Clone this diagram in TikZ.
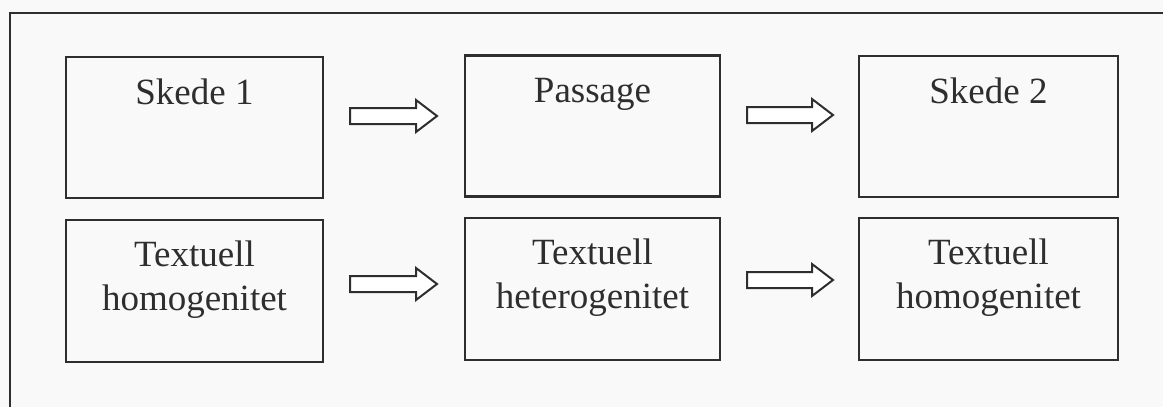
\documentclass[tikz,border=0pt]{standalone}
\usepackage{fontspec}
\setmainfont{Liberation Serif}
\usetikzlibrary{calc}
\definecolor{ink}{HTML}{2E2E2E}
\definecolor{paper}{HTML}{F9F9F9}
\tikzset{
  box/.style={draw=ink, line width=2.3pt, minimum height=141pt, inner sep=0pt},
  lbl/.style={text=ink, font=\fontsize{37}{44}\selectfont, inner sep=0pt, anchor=base, align=center},
  hollow/.style={draw=ink, line width=2pt, line join=miter, fill=white},
  frameline/.style={draw=ink, line width=2.2pt}
}
\newcommand{\hollowarrow}[2]{%
  \draw[hollow] ($(#1)+(0,-8)$) -- ($(#2)+(-21,-8)$) -- ($(#2)+(-21,-16)$) -- (#2)
    -- ($(#2)+(-21,16)$) -- ($(#2)+(-21,8)$) -- ($(#1)+(0,8)$) -- cycle;}
\begin{document}
\begin{tikzpicture}[x=1pt,y=-1pt]
\fill[paper] (0,0) rectangle (1163,407);
\useasboundingbox (0,0) rectangle (1163,407);
\coordinate (fb) at (10,408);
\coordinate (fc) at (10,13);
\coordinate (fr) at (1164,13);
\draw[frameline] (fb) -- (fc) -- (fr);
% row 1
\node[box, minimum width=257pt] (b1) at (194.5,127.5) {};
\node[box, minimum width=255pt] (b2) at (592.5,126) {};
\node[box, minimum width=259pt] (b3) at (988.5,126.5) {};
\node[lbl] (t1) at (194.5,104) {Skede 1};
\node[lbl] (t2) at (592.5,102) {Passage};
\node[lbl] (t3) at (988.5,103) {Skede 2};
% row 2
\node[box, minimum width=257pt, minimum height=142pt] (c1) at (194.5,291) {};
\node[box, minimum width=255pt, minimum height=142pt] (c2) at (592.5,289) {};
\node[box, minimum width=259pt, minimum height=142pt] (c3) at (988.5,289) {};
\node[lbl] (u1a) at (194.5,266) {Textuell};
\node[lbl] (u1b) at (194.5,310) {homogenitet};
\node[lbl] (u2a) at (592.5,264) {Textuell};
\node[lbl] (u2b) at (592.5,308) {heterogenitet};
\node[lbl] (u3a) at (988.5,264) {Textuell};
\node[lbl] (u3b) at (988.5,308) {homogenitet};
% arrows
\coordinate (a1s) at (350,116);
\coordinate (a1e) at (437,116);
\coordinate (a2s) at (747,115);
\coordinate (a2e) at (833,115);
\coordinate (a3s) at (350,284);
\coordinate (a3e) at (437,284);
\coordinate (a4s) at (747,280);
\coordinate (a4e) at (833,280);
\hollowarrow{a1s}{a1e}
\hollowarrow{a2s}{a2e}
\hollowarrow{a3s}{a3e}
\hollowarrow{a4s}{a4e}
\end{tikzpicture}
\end{document}
